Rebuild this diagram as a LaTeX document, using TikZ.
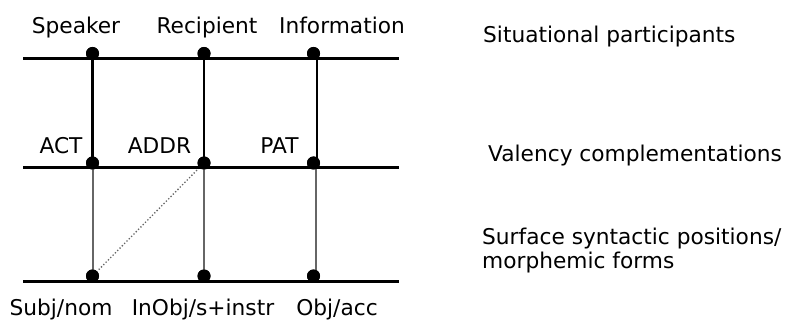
\documentclass[tikz,border=0pt]{standalone}
\usepackage{fontspec}
\setmainfont{DejaVu Sans}
\begin{document}
\begin{tikzpicture}[x=1pt,y=-1pt,
  lbl/.style={anchor=base,inner sep=0pt,font=\fontsize{21.7}{24}\selectfont},
  side/.style={anchor=base west,inner sep=0pt,align=left,font=\fontsize{21.7}{24}\selectfont},
  dot/.style={circle,fill=black,inner sep=0pt,minimum size=13pt},
  level/.style={line width=3pt},
  upper/.style={line width=2.2pt},
  lower/.style={line width=1.4pt,draw=black!60},
  link/.style={line width=1.3pt,draw=black!60,dotted}]
\useasboundingbox (0,0) rectangle (787,320);
% level line end points
\coordinate (L1a) at (23,59);  \coordinate (L1b) at (399,59);
\coordinate (L2a) at (23,168); \coordinate (L2b) at (399,168);
\coordinate (L3a) at (23,282); \coordinate (L3b) at (399,282);
% dots
\node[dot] (s1) at (92.5,53.5) {};
\node[dot] (r1) at (204,53.5) {};
\node[dot] (i1) at (313.5,53.5) {};
\node[dot] (s2) at (92.5,163) {};
\node[dot] (r2) at (204,163) {};
\node[dot] (i2) at (313.5,163) {};
\node[dot] (s3) at (92.5,276) {};
\node[dot] (r3) at (204,276) {};
\node[dot] (i3) at (313.5,276) {};
\coordinate (s2b) at (93,168); \coordinate (r2b) at (204,168); \coordinate (i2b) at (316,168);
\coordinate (s3b) at (93,282); \coordinate (r3b) at (204,282); \coordinate (i3b) at (316,282);
\coordinate (i1b) at (317,59); \coordinate (i2t) at (317,160);
% lower vertical lines
\draw[lower] (s2b) -- (s3b);
\draw[lower] (r2b) -- (r3b);
\draw[lower] (i2b) -- (i3b);
\draw[link] (r2) -- (s3);
% upper vertical lines
\draw[upper] (s1.center) -- (s2.center);
\draw[upper] (r1.center) -- (r2.center);
\draw[line width=2.8pt] (i1b) -- (i2t);
% level lines
\draw[level] (L1a) -- (L1b);
\draw[level] (L2a) -- (L2b);
\draw[level] (L3a) -- (L3b);
% redraw dots on top
\node[dot] at (s1) {}; \node[dot] at (r1) {}; \node[dot] at (i1) {};
\node[dot] at (s2) {}; \node[dot] at (r2) {}; \node[dot] at (i2) {};
\node[dot] at (s3) {}; \node[dot] at (r3) {}; \node[dot] at (i3) {};
% labels
\node[lbl] (t1) at (76,34) {Speaker};
\node[lbl] (t2) at (207,34) {Recipient};
\node[lbl] (t3) at (342,34) {Information};
\node[lbl] (m1) at (61,154) {ACT};
\node[lbl] (m2) at (159.5,154) {ADDR};
\node[lbl] (m3) at (279.5,154) {PAT};
\node[lbl] (b1) at (61,316) {Subj/nom};
\node[lbl] (b2) at (203,316) {InObj/s+instr};
\node[lbl] (b3) at (337,316) {Obj/acc};
\node[side] (p1) at (483,43) {Situational participants};
\node[side] (p2) at (488,162) {Valency complementations};
\node[side] (p3) at (482,269) {Surface syntactic positions/\\morphemic forms};
\end{tikzpicture}
\end{document}
